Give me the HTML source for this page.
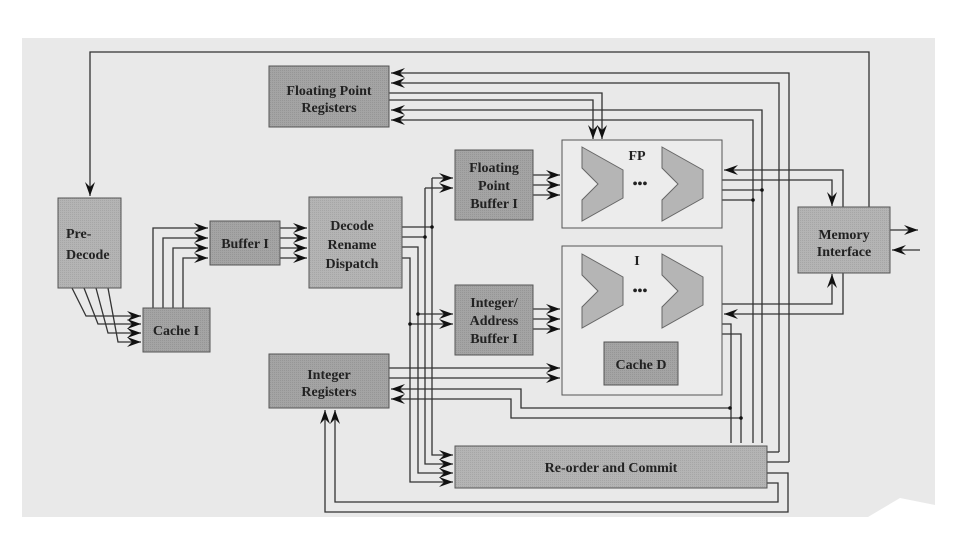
<!DOCTYPE html>
<html><head><meta charset="utf-8"><style>
html,body{margin:0;padding:0;background:#fff;}
svg{display:block;}
text{font-family:"Liberation Serif",serif;font-weight:bold;font-size:14px;fill:#222;text-anchor:middle;}
</style></head><body>
<svg width="960" height="553" viewBox="0 0 960 553" xmlns="http://www.w3.org/2000/svg">
<defs>
<marker id="a" viewBox="0 0 14 10" refX="14" refY="5" markerWidth="15" markerHeight="10" markerUnits="userSpaceOnUse" orient="auto">
<path d="M0,0 L14,5 L0,10 L5,5 Z" fill="#111"/>
</marker>
<pattern id="p" width="2" height="2" patternUnits="userSpaceOnUse"><rect width="2" height="2" fill="#a4a4a4"/><rect width="1" height="1" fill="#969696"/></pattern>
<pattern id="q" width="2" height="2" patternUnits="userSpaceOnUse"><rect width="2" height="2" fill="#b4b4b4"/><rect width="1" height="1" fill="#a6a6a6"/></pattern>
</defs>
<rect x="22" y="38" width="913" height="479" fill="#e9e9e9"/>
<polygon points="868,517 935,517 935,505 900,498" fill="#fff"/>

<g fill="none" stroke="#333" stroke-width="1.3">
<path d="M869,207 V52 H90 V196" marker-end="url(#a)"/>
<path d="M789,462 V73 H391" marker-end="url(#a)"/>
<path d="M779,452 V83 H391" marker-end="url(#a)"/>
<path d="M389,93 H602 V139" marker-end="url(#a)"/>
<path d="M389,100 H593 V139" marker-end="url(#a)"/>
<path d="M762,443 V110 H391" marker-end="url(#a)"/>
<path d="M753,443 V120 H391" marker-end="url(#a)"/>
<path d="M741,443 V334 H722"/>
<path d="M731,443 V324 H722"/>
<path d="M722,190 H762"/><path d="M722,200 H753"/>
<path d="M843,207 V170 H724" marker-end="url(#a)"/>
<path d="M722,180 H832 V206" marker-end="url(#a)"/>
<path d="M722,304 H832 V274" marker-end="url(#a)"/>
<path d="M843,273 V314 H724" marker-end="url(#a)"/>
<path d="M890,230 H918" marker-end="url(#a)"/>
<path d="M920,250 H892" marker-end="url(#a)"/>
<path d="M72,288 L86,316 H141" marker-end="url(#a)"/>
<path d="M84,288 L98,324 H141" marker-end="url(#a)"/>
<path d="M96,288 L108,333 H141" marker-end="url(#a)"/>
<path d="M108,288 L118,342 H141" marker-end="url(#a)"/>
<path d="M153,308 V228 H208" marker-end="url(#a)"/>
<path d="M163,308 V238 H208" marker-end="url(#a)"/>
<path d="M173,308 V248 H208" marker-end="url(#a)"/>
<path d="M183,308 V258 H208" marker-end="url(#a)"/>
<path d="M280,228 H307" marker-end="url(#a)"/>
<path d="M280,238 H307" marker-end="url(#a)"/>
<path d="M280,248 H307" marker-end="url(#a)"/>
<path d="M280,258 H307" marker-end="url(#a)"/>
<path d="M402,227 H432"/><path d="M402,237 H425"/>
<path d="M432,178 H453" marker-end="url(#a)"/>
<path d="M425,188 H453" marker-end="url(#a)"/>
<path d="M432,178 V455 H453" marker-end="url(#a)"/>
<path d="M425,188 V464 H453" marker-end="url(#a)"/>
<path d="M402,247 H418 V473 H453" marker-end="url(#a)"/>
<path d="M402,258 H410 V482 H453" marker-end="url(#a)"/>
<path d="M418,314 H453" marker-end="url(#a)"/>
<path d="M410,324 H453" marker-end="url(#a)"/>
<path d="M533,175 H560" marker-end="url(#a)"/>
<path d="M533,185 H560" marker-end="url(#a)"/>
<path d="M533,195 H560" marker-end="url(#a)"/>
<path d="M533,309 H560" marker-end="url(#a)"/>
<path d="M533,319 H560" marker-end="url(#a)"/>
<path d="M533,329 H560" marker-end="url(#a)"/>
<path d="M389,368 H560" marker-end="url(#a)"/>
<path d="M389,378 H560" marker-end="url(#a)"/>
<path d="M730,408 H521 V389 H391" marker-end="url(#a)"/>
<path d="M741,418 H511 V399 H391" marker-end="url(#a)"/>
<path d="M767,473 H788 V512 H325 V410" marker-end="url(#a)"/>
<path d="M767,483 H778 V502 H335 V410" marker-end="url(#a)"/>
<path d="M767,462 H789"/><path d="M767,452 H779"/>
</g>
<g fill="#111">
<circle cx="432" cy="227" r="1.8"/><circle cx="425" cy="237" r="1.8"/>
<circle cx="418" cy="314" r="1.8"/><circle cx="410" cy="324" r="1.8"/>
<circle cx="762" cy="190" r="1.8"/><circle cx="753" cy="200" r="1.8"/>
<circle cx="730" cy="408" r="1.8"/><circle cx="741" cy="418" r="1.8"/>
</g>

<g stroke="#555" stroke-width="1">
<rect x="269" y="66" width="120" height="61" fill="url(#p)"/>
<rect x="58" y="198" width="63" height="90" fill="url(#q)"/>
<rect x="143" y="308" width="67" height="44" fill="url(#p)"/>
<rect x="210" y="221" width="70" height="44" fill="url(#p)"/>
<rect x="309" y="197" width="93" height="91" fill="url(#q)"/>
<rect x="455" y="150" width="78" height="70" fill="url(#p)"/>
<rect x="455" y="285" width="78" height="70" fill="url(#p)"/>
<rect x="562" y="140" width="160" height="88" fill="#ececec"/>
<rect x="562" y="246" width="160" height="149" fill="#ececec"/>
<rect x="604" y="342" width="74" height="43" fill="url(#p)"/>
<rect x="798" y="207" width="92" height="66" fill="url(#q)"/>
<rect x="269" y="354" width="120" height="54" fill="url(#p)"/>
<rect x="455" y="446" width="312" height="42" fill="url(#q)"/>
</g>
<g fill="#b5b5b5" stroke="#666" stroke-width="1">
<polygon points="582,147 623,170 623,198 582,221 582,200 598,184 582,168"/>
<polygon points="662,147 703,170 703,198 662,221 662,200 678,184 662,168"/>
<polygon points="582,254 623,277 623,305 582,328 582,307 598,291 582,275"/>
<polygon points="662,254 703,277 703,305 662,328 662,307 678,291 662,275"/>
</g>

<text x="329" y="95">Floating Point</text><text x="329" y="112">Registers</text>
<text x="66" y="238" style="text-anchor:start">Pre-</text>
<text x="66" y="259" style="text-anchor:start">Decode</text>
<text x="176" y="335">Cache I</text>
<text x="245" y="248">Buffer I</text>
<text x="352" y="230">Decode</text><text x="352" y="249">Rename</text><text x="352" y="268">Dispatch</text>
<text x="494" y="172">Floating</text><text x="494" y="190">Point</text><text x="494" y="208">Buffer I</text>
<text x="494" y="307">Integer/</text><text x="494" y="325">Address</text><text x="494" y="343">Buffer I</text>
<text x="637" y="160">FP</text><text x="640" y="188">•••</text>
<text x="637" y="265">I</text><text x="640" y="295">•••</text>
<text x="641" y="369">Cache D</text>
<text x="844" y="239">Memory</text><text x="844" y="256">Interface</text>
<text x="329" y="379">Integer</text><text x="329" y="396">Registers</text>
<text x="611" y="472">Re-order  and  Commit</text>
</svg>
</body></html>
